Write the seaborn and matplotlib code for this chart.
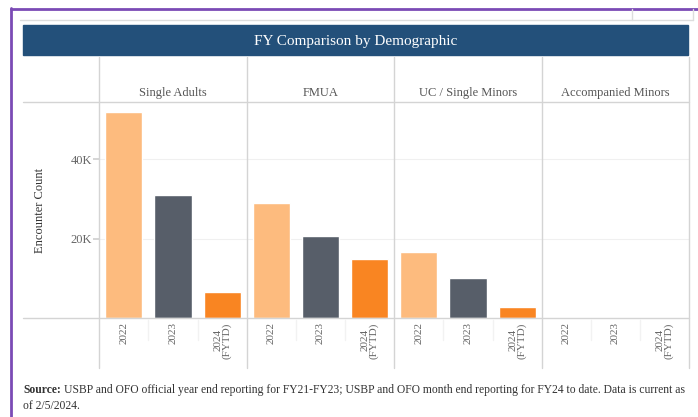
import matplotlib
matplotlib.use("Agg")
import matplotlib.pyplot as plt
import seaborn as sns
from matplotlib.lines import Line2D
from matplotlib.patches import Rectangle

# data
groups = ['Single Adults', 'FMUA', 'UC / Single Minors', 'Accompanied Minors']
years = ['2022', '2023', '2024\n(FYTD)']
single_adults = [52000, 31100, 6600]
fmua = [29000, 20600, 14800]
uc_single_minors = [16600, 10200, 2900]
accompanied_minors = [0, 0, 0]
values = [single_adults, fmua, uc_single_minors, accompanied_minors]
year_colors = ['#FDBB7E', '#575E69', '#F98522']

sns.set_theme(style='white')
plt.rcParams['font.family'] = ['Liberation Serif', 'DejaVu Serif']

W, H = 698, 417
fig = plt.figure(figsize=(W / 100, H / 100), dpi=100)


def fx(x):
    return x / W


def fy(y):
    return 1 - y / H


def hline(x0, x1, y, color, lw=1.0):
    fig.add_artist(Line2D([fx(x0), fx(x1)], [fy(y), fy(y)], color=color, lw=lw,
                          transform=fig.transFigure))


def vline(x, y0, y1, color, lw=1.0):
    fig.add_artist(Line2D([fx(x), fx(x)], [fy(y0), fy(y1)], color=color, lw=lw,
                          transform=fig.transFigure))


# dashboard frame bits
vline(11.5, 8, 417, '#7B4BB5', lw=2)
hline(11, 698, 8.5, '#7B4BB5', lw=2)
hline(20, 693, 20, '#DDDDDD', lw=1)
vline(632, 9, 20, '#DDDDDD')
vline(693, 9, 20, '#DDDDDD')

# header bar
fig.add_artist(Rectangle((fx(23), fy(55)), fx(665), 30 / H, color='#23507A',
                         transform=fig.transFigure))
fig.text(fx(356), fy(41), 'FY Comparison by Demographic', color='white',
         fontsize=11, ha='center', va='center')

edges = [99, 247, 394, 542, 689]
top, base = 102, 318
ymax = 54500

for i, g in enumerate(groups):
    x0, x1 = edges[i], edges[i + 1]
    ax = fig.add_axes([fx(x0), fy(base), (x1 - x0) / W, (base - top) / H])
    sns.barplot(x=years, y=values[i], hue=years, palette=year_colors,
                legend=False, width=0.76, saturation=1, ax=ax)
    ax.set_ylim(0, ymax)
    ax.set_xlim(-0.5, 2.5)
    ax.set_yticks([20000, 40000])
    ax.yaxis.grid(True, color='#F0F0F0', lw=0.8)
    ax.set_axisbelow(True)
    for s in ax.spines.values():
        s.set_visible(False)
    ax.set_xlabel('')
    ax.set_ylabel('')
    ax.set_xticks(range(3))
    ax.set_xticklabels(years, rotation=90, va='top', ha='center', fontsize=8,
                       color='#666666', linespacing=0.85)
    ax.tick_params(axis='x', length=0, pad=3)
    if i == 0:
        ax.set_yticklabels(['20K', '40K'], fontsize=9, color='#666666')
        ax.tick_params(axis='y', left=True, length=4, color='#D0D0D0', pad=1)
    else:
        ax.set_yticklabels([])
        ax.tick_params(axis='y', length=0)
    fig.text(fx((x0 + x1) / 2), fy(93), g, fontsize=9, color='#555555',
             ha='center', va='center')
    # faint separators between the year slots below the axis
    for k in (1, 2):
        vline(x0 + (x1 - x0) * k / 3, base + 2, 340, '#F2F2F2')

for e in edges:
    vline(e, 57, 368, '#D4D4D4')
hline(23, 689, 101.5, '#D4D4D4')
hline(23, 689, base, '#D4D4D4')

fig.text(fx(40), fy(210), 'Encounter Count', rotation=90, fontsize=9,
         color='#333333', ha='center', va='center')

# footer
src = fig.text(fx(23), fy(390), 'Source:', fontsize=8.4, fontweight='bold',
               color='#333333', va='center')
fig.canvas.draw()
bb = src.get_window_extent(fig.canvas.get_renderer())
fig.text(bb.x1 / W + fx(3), fy(390),
         'USBP and OFO official year end reporting for FY21-FY23; USBP and OFO '
         'month end reporting for FY24 to date. Data is current as',
         fontsize=8.4, color='#333333', va='center')
fig.text(fx(23), fy(406), 'of 2/5/2024.', fontsize=8.4, color='#333333', va='center')

fig.savefig('out.png', dpi=100)
